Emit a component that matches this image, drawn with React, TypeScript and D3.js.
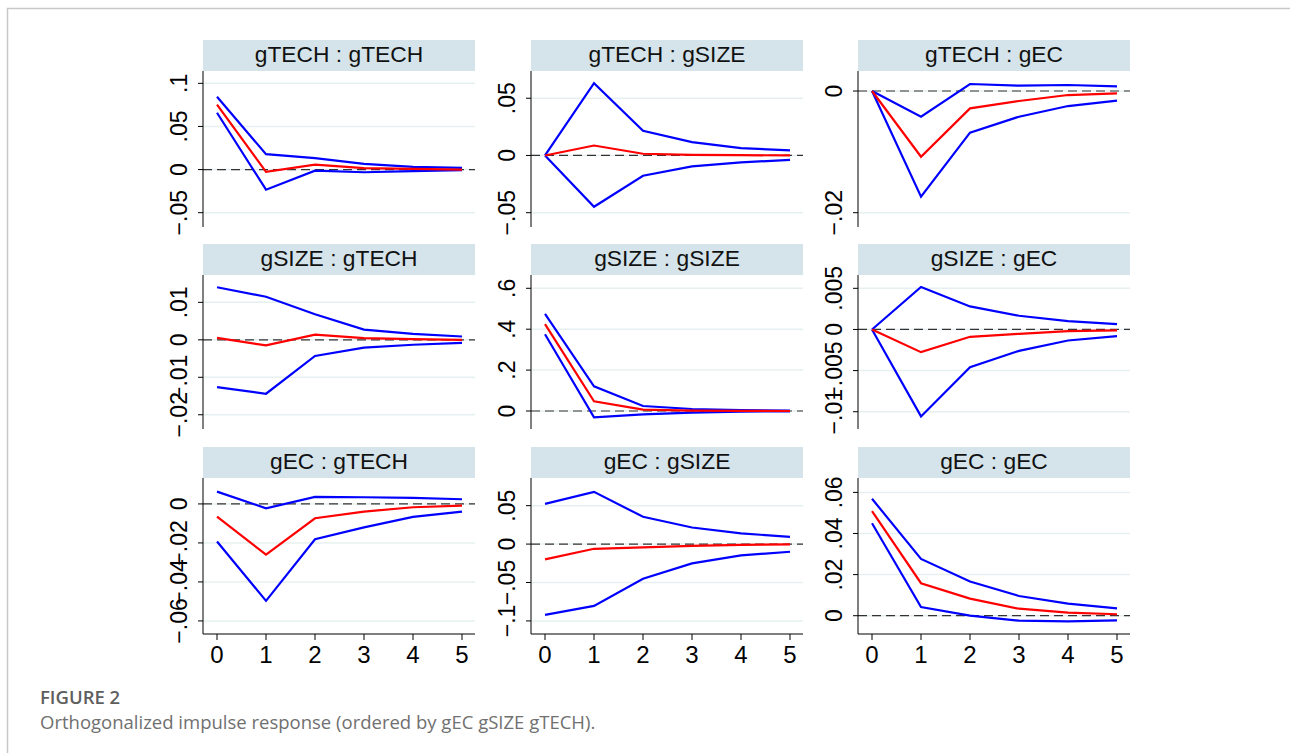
import React from 'react';
import * as d3 from 'd3';

// impulse : response panels, ordered row by row
const steps = [0, 1, 2, 3, 4, 5];
const titles = [
  'gTECH : gTECH', 'gTECH : gSIZE', 'gTECH : gEC',
  'gSIZE : gTECH', 'gSIZE : gSIZE', 'gSIZE : gEC',
  'gEC : gTECH', 'gEC : gSIZE', 'gEC : gEC',
];

// orthogonalized irf (red) and 95% band (blue)
const irfTechTech = [0.0752, -0.0027, 0.0058, 0.0016, 0.0008, 0.0];
const loTechTech = [0.0659, -0.0233, -0.0012, -0.0031, -0.0019, -0.0008];
const hiTechTech = [0.0845, 0.0178, 0.0132, 0.0066, 0.0031, 0.0019];

const irfTechSize = [0, 0.0087, 0.0015, 0.0006, 0.0003, 0.0];
const loTechSize = [0, -0.0448, -0.0177, -0.0096, -0.0061, -0.0038];
const hiTechSize = [0, 0.0631, 0.0215, 0.0116, 0.0064, 0.0044];

const irfTechEc = [0, -0.0108, -0.00285, -0.00164, -0.00066, -0.00038];
const loTechEc = [0, -0.01737, -0.00685, -0.00422, -0.00247, -0.00159];
const hiTechEc = [0, -0.00422, 0.00115, 0.00088, 0.00099, 0.00077];

const irfSizeTech = [0.00053, -0.00149, 0.0014, 0.00044, 0.00018, 0.0];
const loSizeTech = [-0.01263, -0.01439, -0.0043, -0.0021, -0.00132, -0.00079];
const hiSizeTech = [0.01404, 0.01149, 0.00684, 0.00272, 0.00158, 0.00088];

const irfSizeSize = [0.4245, 0.0473, 0.0065, 0.0016, 0.0005, 0.0];
const loSizeSize = [0.3755, -0.031, -0.0163, -0.008, -0.003, -0.0016];
const hiSizeSize = [0.475, 0.121, 0.0245, 0.0098, 0.005, 0.0016];

const irfSizeEc = [0, -0.00276, -0.00089, -0.00053, -0.0002, -0.00012];
const loSizeEc = [0, -0.01057, -0.00459, -0.0026, -0.00134, -0.00081];
const hiSizeEc = [0, 0.00516, 0.0028, 0.00167, 0.00102, 0.00065];

const irfEcTech = [-0.0065, -0.026, -0.00735, -0.00393, -0.00171, -0.00085];
const loEcTech = [-0.0193, -0.0497, -0.0181, -0.012, -0.00667, -0.00393];
const hiEcTech = [0.00632, -0.00222, 0.00359, 0.00342, 0.00308, 0.00239];

const irfEcSize = [-0.0199, -0.0061, -0.0043, -0.0022, -0.0009, -0.0004];
const loEcSize = [-0.0922, -0.0805, -0.045, -0.0251, -0.0147, -0.01];
const hiEcSize = [0.0524, 0.068, 0.0355, 0.0216, 0.0139, 0.0095];

const irfEcEc = [0.0509, 0.0158, 0.0083, 0.0034, 0.0015, 0.0007];
const loEcEc = [0.045, 0.0042, 0.0, -0.0024, -0.0028, -0.0023];
const hiEcEc = [0.0569, 0.0276, 0.0166, 0.0096, 0.0059, 0.0036];

// y axis ticks and their Stata-style labels
const yTicks = [
  [0.1, 0.05, 0, -0.05], [0.05, 0, -0.05], [0, -0.02],
  [0.01, 0, -0.01, -0.02], [0.6, 0.4, 0.2, 0], [0.005, 0, -0.005, -0.01],
  [0, -0.02, -0.04, -0.06], [0.05, 0, -0.05, -0.1], [0.06, 0.04, 0.02, 0],
];
const yLabels = [
  ['.1', '.05', '0', '−.05'], ['.05', '0', '−.05'], ['0', '−.02'],
  ['.01', '0', '−.01', '−.02'], ['.6', '.4', '.2', '0'], ['.005', '0', '−.005', '−.01'],
  ['0', '−.02', '−.04', '−.06'], ['.05', '0', '−.05', '−.1'], ['.06', '.04', '.02', '0'],
];
const yDomains = [
  [-0.0666, 0.1143], [-0.0625, 0.0738], [-0.02235, 0.00329],
  [-0.0238, 0.0173], [-0.088, 0.665], [-0.0121, 0.00662],
  [-0.0667, 0.0133], [-0.117, 0.086], [-0.0089, 0.067],
];

const irfs = [irfTechTech, irfTechSize, irfTechEc, irfSizeTech, irfSizeSize, irfSizeEc, irfEcTech, irfEcSize, irfEcEc];
const los = [loTechTech, loTechSize, loTechEc, loSizeTech, loSizeSize, loSizeEc, loEcTech, loEcSize, loEcEc];
const his = [hiTechTech, hiTechSize, hiTechEc, hiSizeTech, hiSizeSize, hiSizeEc, hiEcTech, hiEcSize, hiEcEc];

const W = 1290;
const H = 753;
const colLeft = [203, 531, 858];
const plotW = 272;
const rowTop = [71, 275, 478];
const rowBottom = [227, 429, 634];
const headH = 31;
const axisFont = '"Liberation Sans", Arial, Helvetica, sans-serif';
const captionFont = '"Open Sans", "Noto Sans", sans-serif';

function Panel({ i }: { i: number }) {
  const col = i % 3;
  const row = Math.floor(i / 3);
  const left = colLeft[col];
  const top = rowTop[row];
  const bottom = rowBottom[row];

  const x = d3.scaleLinear().domain([-0.286, 5.265]).range([left, left + plotW]);
  const y = d3.scaleLinear().domain(yDomains[i]).range([bottom, top]);
  const line = d3.line<number>().x((_, k) => x(steps[k])).y(d => y(d));

  return (
    <g>
      <rect x={left} y={top - headH} width={plotW} height={headH} fill="#d5e4eb" />
      <text x={left + plotW / 2} y={top - 9} textAnchor="middle" fontSize={22.8} fontFamily={axisFont} fill="#111">
        {titles[i]}
      </text>
      {yTicks[i].map(t => (
        <line key={'g' + t} x1={left} x2={left + plotW} y1={y(t)} y2={y(t)} stroke="#e6f0f1" strokeWidth={1.5} />
      ))}
      <line x1={left} x2={left + plotW} y1={y(0)} y2={y(0)} stroke="#333" strokeWidth={1.2} strokeDasharray="9,5" />
      <path d={line(his[i]) || ''} fill="none" stroke="#0000ff" strokeWidth={2.2} />
      <path d={line(los[i]) || ''} fill="none" stroke="#0000ff" strokeWidth={2.2} />
      <path d={line(irfs[i]) || ''} fill="none" stroke="#ff0000" strokeWidth={2.2} />
      <line x1={left} x2={left} y1={top} y2={bottom} stroke="#000" strokeWidth={1} />
      {yTicks[i].map((t, k) => (
        <g key={'t' + t}>
          <line x1={left - 5} x2={left} y1={y(t)} y2={y(t)} stroke="#000" strokeWidth={1} />
          <text
            transform={`translate(${left - 16},${y(t)}) rotate(-90)`}
            textAnchor="middle"
            fontSize={23}
            fontFamily={axisFont}
            fill="#000"
          >
            {yLabels[i][k]}
          </text>
        </g>
      ))}
      {row === 2 && (
        <g>
          <line x1={left} x2={left + plotW} y1={bottom} y2={bottom} stroke="#000" strokeWidth={1} />
          {steps.map(s => (
            <g key={'x' + s}>
              <line x1={x(s)} x2={x(s)} y1={bottom} y2={bottom + 6} stroke="#000" strokeWidth={1} />
              <text x={x(s)} y={bottom + 29} textAnchor="middle" fontSize={24} fontFamily={axisFont} fill="#000">
                {s}
              </text>
            </g>
          ))}
        </g>
      )}
    </g>
  );
}

export default function App() {
  return (
    <svg width={W} height={H} style={{ position: 'absolute', left: 0, top: 0, background: '#fff' }}>
      <rect x={0} y={0} width={W} height={H} fill="#fff" />
      <path d={`M7.5,${H} V8.5 H${W}`} fill="none" stroke="#c8c8c8" strokeWidth={1.5} />
      {titles.map((_, i) => (
        <Panel key={i} i={i} />
      ))}
      <text x={40} y={704} fontSize={18.5} fontWeight={600} fontFamily={captionFont} fill="#5e5e5e">
        FIGURE 2
      </text>
      <text x={40} y={729} fontSize={18.5} fontFamily={captionFont} fill="#707070">
        Orthogonalized impulse response (ordered by gEC gSIZE gTECH).
      </text>
    </svg>
  );
}
